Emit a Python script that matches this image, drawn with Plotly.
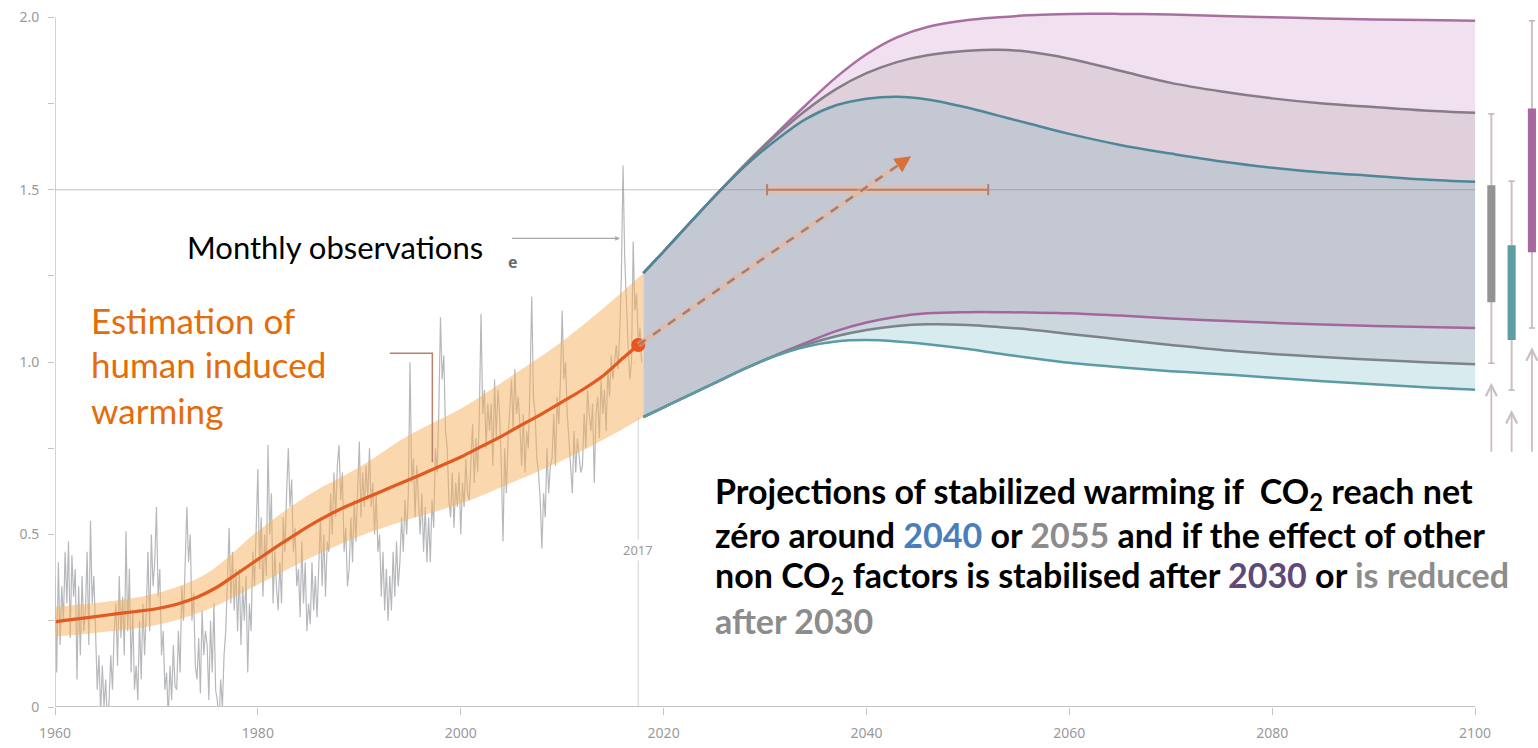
import plotly.graph_objects as go

# ---------------- DATA ----------------
# Monthly observations (sampled every two months), starting 1960
obs_start = 1960.0
obs_step = 1.0 / 6.0
obs_values = [
    0.38, 0.10, 0.42, 0.18, 0.35, 0.25,   # 1960
    0.45, 0.30, 0.48, 0.20, 0.44, 0.32,   # 1961
    0.40, 0.08, 0.35, 0.15, 0.38, 0.22,   # 1962
    0.28, 0.45, 0.18, 0.54, 0.30, 0.38,   # 1963
    0.22, 0.05, 0.15, -0.02, 0.12, 0.00,  # 1964
    0.08, -0.05, 0.02, 0.15, 0.05, 0.22,  # 1965
    0.30, 0.12, 0.38, 0.20, 0.32, 0.15,   # 1966
    0.51, 0.22, 0.40, 0.10, 0.28, 0.05,   # 1967
    0.12, 0.02, 0.25, 0.08, 0.30, 0.15,   # 1968
    0.28, 0.45, 0.22, 0.50, 0.35, 0.42,   # 1969
    0.58, 0.32, 0.40, 0.15, 0.22, 0.05,   # 1970
    0.10, -0.03, 0.12, 0.02, 0.18, 0.06,  # 1971
    0.05, 0.22, 0.10, 0.35, 0.25, 0.40,   # 1972
    0.58, 0.42, 0.50, 0.25, 0.33, 0.12,   # 1973
    0.08, 0.20, 0.04, 0.28, 0.15, 0.22,   # 1974
    0.18, 0.02, 0.25, 0.10, 0.30, 0.05,   # 1975
    0.02, -0.05, 0.08, 0.00, 0.15, 0.22,  # 1976
    0.35, 0.52, 0.30, 0.45, 0.28, 0.40,   # 1977
    0.22, 0.40, 0.18, 0.35, 0.25, 0.38,   # 1978
    0.10, 0.30, 0.22, 0.45, 0.35, 0.55,   # 1979
    0.69, 0.40, 0.55, 0.32, 0.50, 0.38,   # 1980
    0.76, 0.50, 0.62, 0.30, 0.45, 0.35,   # 1981
    0.28, 0.42, 0.30, 0.55, 0.45, 0.62,   # 1982
    0.75, 0.58, 0.66, 0.45, 0.52, 0.35,   # 1983
    0.40, 0.26, 0.48, 0.30, 0.42, 0.22,   # 1984
    0.30, 0.24, 0.42, 0.28, 0.38, 0.26,   # 1985
    0.38, 0.55, 0.35, 0.50, 0.32, 0.48,   # 1986
    0.45, 0.62, 0.50, 0.68, 0.55, 0.70,   # 1987
    0.76, 0.60, 0.68, 0.45, 0.52, 0.35,   # 1988
    0.40, 0.55, 0.42, 0.60, 0.48, 0.62,   # 1989
    0.77, 0.55, 0.68, 0.58, 0.70, 0.60,   # 1990
    0.75, 0.58, 0.65, 0.50, 0.62, 0.45,   # 1991
    0.50, 0.32, 0.45, 0.28, 0.40, 0.25,   # 1992
    0.38, 0.28, 0.45, 0.32, 0.48, 0.35,   # 1993
    0.42, 0.55, 0.45, 0.60, 0.50, 0.62,   # 1994
    1.00, 0.65, 0.72, 0.55, 0.70, 0.60,   # 1995
    0.50, 0.62, 0.45, 0.58, 0.42, 0.55,   # 1996
    0.42, 0.60, 0.52, 0.75, 0.68, 0.85,   # 1997
    1.13, 0.95, 1.02, 0.80, 0.75, 0.60,   # 1998
    0.55, 0.68, 0.52, 0.65, 0.58, 0.68,   # 1999
    0.50, 0.65, 0.58, 0.72, 0.62, 0.60,   # 2000
    0.70, 0.82, 0.65, 0.78, 0.68, 0.85,   # 2001
    1.14, 0.85, 0.92, 0.75, 0.88, 0.80,   # 2002
    0.88, 0.70, 0.95, 0.78, 0.92, 0.85,   # 2003
    0.70, 0.48, 0.75, 0.62, 0.78, 0.85,   # 2004
    0.95, 0.80, 0.98, 0.85, 0.90, 0.82,   # 2005
    0.70, 0.85, 0.68, 0.80, 0.75, 0.95,   # 2006
    1.19, 0.90, 0.85, 0.72, 0.68, 0.60,   # 2007
    0.46, 0.62, 0.55, 0.75, 0.62, 0.70,   # 2008
    0.72, 0.85, 0.70, 0.90, 0.82, 0.95,   # 2009
    1.15, 0.95, 1.00, 0.85, 0.78, 0.70,   # 2010
    0.62, 0.80, 0.68, 0.78, 0.72, 0.68,   # 2011
    0.70, 0.85, 0.75, 0.92, 0.85, 0.80,   # 2012
    0.88, 0.65, 0.85, 0.90, 0.78, 0.95,   # 2013
    0.85, 0.92, 0.80, 0.98, 0.90, 1.02,   # 2014
    0.95, 1.00, 1.05, 0.98, 1.08, 1.25,   # 2015
    1.57, 1.30, 1.15, 1.05, 0.95, 1.00,   # 2016
    1.35, 1.15, 1.20, 1.05, 1.10, 1.00,   # 2017
]

# Human-induced warming estimate
hw_years = [1960, 1962, 1964, 1966, 1968, 1970, 1972, 1974, 1976, 1978, 1980,
            1982, 1984, 1986, 1988, 1990, 1992, 1994, 1996, 1998, 2000,
            2002, 2004, 2006, 2008, 2010, 2012, 2014, 2016, 2017.5]
hw_center = [0.247, 0.255, 0.262, 0.270, 0.277, 0.285, 0.298, 0.318, 0.348, 0.388, 0.428,
             0.468, 0.506, 0.541, 0.572, 0.598, 0.623, 0.648, 0.673, 0.699, 0.725,
             0.755, 0.785, 0.818, 0.850, 0.885, 0.920, 0.960, 1.012, 1.050]
band_years = [1960, 1965, 1970, 1975, 1980, 1985, 1990, 1995, 2000, 2005, 2010, 2015, 2018]
band_low = [0.204, 0.218, 0.238, 0.282, 0.355, 0.430, 0.495, 0.545, 0.590, 0.650, 0.715, 0.790, 0.841]
band_high = [0.290, 0.305, 0.330, 0.388, 0.510, 0.615, 0.695, 0.790, 0.865, 0.960, 1.060, 1.180, 1.258]

# Projections (2018-2100)
proj_years = [2018, 2020, 2022, 2025, 2028, 2031, 2034, 2037, 2040, 2043, 2046, 2050,
              2053, 2056, 2060, 2065, 2070, 2075, 2080, 2085, 2090, 2095, 2100]
blue_top = [1.258, 1.321, 1.385, 1.480, 1.568, 1.642, 1.705, 1.745, 1.764, 1.770, 1.762, 1.738,
            1.715, 1.692, 1.662, 1.630, 1.605, 1.582, 1.564, 1.550, 1.540, 1.530, 1.523]
gray_top = [1.258, 1.321, 1.385, 1.480, 1.571, 1.655, 1.730, 1.792, 1.838, 1.870, 1.890, 1.903,
            1.906, 1.900, 1.880, 1.845, 1.810, 1.785, 1.765, 1.750, 1.740, 1.730, 1.723]
mag_top = [1.258, 1.321, 1.385, 1.480, 1.573, 1.660, 1.745, 1.826, 1.893, 1.942, 1.972, 1.992,
           2.000, 2.006, 2.010, 2.010, 2.008, 2.004, 2.000, 1.997, 1.994, 1.992, 1.990]
teal_bottom = [0.841, 0.869, 0.897, 0.939, 0.981, 1.018, 1.045, 1.060, 1.064, 1.060, 1.052, 1.038,
               1.025, 1.013, 0.998, 0.985, 0.974, 0.965, 0.955, 0.945, 0.936, 0.927, 0.920]
gray_bottom = [0.841, 0.869, 0.897, 0.939, 0.981, 1.019, 1.050, 1.075, 1.093, 1.105, 1.110, 1.108,
               1.102, 1.095, 1.082, 1.066, 1.050, 1.035, 1.024, 1.015, 1.007, 1.000, 0.994]
mag_bottom = [0.841, 0.869, 0.897, 0.939, 0.981, 1.020, 1.056, 1.090, 1.115, 1.132, 1.142, 1.145,
              1.145, 1.144, 1.142, 1.135, 1.127, 1.120, 1.114, 1.109, 1.105, 1.102, 1.099]

# Right-side ranges at 2100
range_names = ["gray", "teal", "magenta"]
range_x = [2101.6, 2103.6, 2105.6]
whisk_low = [0.997, 0.919, 1.099]
box_low = [1.174, 1.064, 1.319]
box_high = [1.513, 1.339, 1.736]
whisk_high = [1.720, 1.525, 1.990]
arrow_base = [0.736, 0.736, 0.736]
arrow_tip = [0.940, 0.861, 1.043]
range_colors = ["#929492", "#5e9ea2", "#a9679f"]

# 1.5 degree crossing range
cross_start, cross_end, cross_level = 2030.2, 2052.0, 1.5
# Dashed trend arrow
trend_start = (2017.5, 1.05)
trend_end = (2044.4, 1.597)

x_ticks = [1960, 1980, 2000, 2020, 2040, 2060, 2080, 2100]
y_ticks = [0, 0.25, 0.5, 0.75, 1.0, 1.25, 1.5, 1.75, 2.0]
y_ticktext = ["0", "", "0.5", "", "1.0", "", "1.5", "", "2.0"]

# ---------------- FIGURE ----------------
fig = go.Figure()

obs_years = [obs_start + i * obs_step for i in range(len(obs_values))]
fig.add_trace(go.Scatter(x=obs_years, y=obs_values, mode="lines",
                         line=dict(color="#b6b8bb", width=1.2), hoverinfo="skip"))

# orange uncertainty band
fig.add_trace(go.Scatter(x=band_years, y=band_low, mode="lines", line=dict(width=0, shape="spline"),
                         hoverinfo="skip"))
fig.add_trace(go.Scatter(x=band_years, y=band_high, mode="lines", line=dict(width=0, shape="spline"),
                         fill="tonexty", fillcolor="rgba(246,176,92,0.5)", hoverinfo="skip"))

# projection fills (stacked regions, bottom to top)
fills = [
    (teal_bottom, None),
    (gray_bottom, "#d8ebee"),
    (mag_bottom, "#ccd6de"),
    (blue_top, "#c4c8d3"),
    (gray_top, "#dfd0dc"),
    (mag_top, "#f0e0f0"),
]
for ys, fc in fills:
    if fc is None:
        fig.add_trace(go.Scatter(x=proj_years, y=ys, mode="lines",
                                 line=dict(width=0, shape="spline"), hoverinfo="skip"))
    else:
        fig.add_trace(go.Scatter(x=proj_years, y=ys, mode="lines",
                                 line=dict(width=0, shape="spline"), fill="tonexty",
                                 fillcolor=fc, hoverinfo="skip"))

# projection lines
for ys, col in [(mag_top, "#a8709f"), (gray_top, "#857c88"), (blue_top, "#4f8698"),
                (mag_bottom, "#a3679d"), (gray_bottom, "#7c8389"), (teal_bottom, "#5b9ba3")]:
    fig.add_trace(go.Scatter(x=proj_years, y=ys, mode="lines",
                             line=dict(color=col, width=2.5, shape="spline"), hoverinfo="skip"))

# human induced warming line + dot
fig.add_trace(go.Scatter(x=hw_years, y=hw_center, mode="lines",
                         line=dict(color="#e05a22", width=3.2, shape="spline"), hoverinfo="skip"))
fig.add_trace(go.Scatter(x=[hw_years[-1]], y=[hw_center[-1]], mode="markers",
                         marker=dict(color="#e8541f", size=14), hoverinfo="skip"))

shapes = []
# axes
shapes.append(dict(type="line", xref="x", yref="y", x0=1960, x1=2100, y0=0, y1=0,
                   line=dict(color="#c4c4c4", width=2), layer="above"))
shapes.append(dict(type="line", xref="x", yref="y", x0=1960, x1=1960, y0=0, y1=2.0,
                   line=dict(color="#c4c4c4", width=1.5), layer="above"))
# 1.5 line
shapes.append(dict(type="line", xref="x", yref="y", x0=1960, x1=2100, y0=1.5, y1=1.5,
                   line=dict(color="rgba(120,120,125,0.45)", width=1), layer="above"))
# 2017 line
shapes.append(dict(type="line", xref="x", yref="y", x0=2017.5, x1=2017.5, y0=0, y1=0.84,
                   line=dict(color="#d2d2d2", width=1), layer="below"))
# crossing range bar
shapes.append(dict(type="line", xref="x", yref="y", x0=cross_start, x1=cross_end,
                   y0=cross_level, y1=cross_level,
                   line=dict(color="rgba(248,185,140,0.55)", width=7), layer="above"))
shapes.append(dict(type="line", xref="x", yref="y", x0=cross_start, x1=cross_end,
                   y0=cross_level, y1=cross_level,
                   line=dict(color="#b57e6c", width=2), layer="above"))
for xc in (cross_start, cross_end):
    shapes.append(dict(type="line", xref="x", yref="y", x0=xc, x1=xc,
                       y0=cross_level - 0.016, y1=cross_level + 0.016,
                       line=dict(color="#b57e6c", width=2), layer="above"))
# dashed trend arrow
shapes.append(dict(type="line", xref="x", yref="y", x0=trend_start[0], y0=trend_start[1],
                   x1=trend_end[0] - 0.3, y1=trend_end[1] - 0.006,
                   line=dict(color="rgba(245,180,140,0.45)", width=6), layer="above"))
shapes.append(dict(type="line", xref="x", yref="y", x0=trend_start[0], y0=trend_start[1],
                   x1=trend_end[0] - 0.3, y1=trend_end[1] - 0.006,
                   line=dict(color="#a87c6e", width=2.5, dash="dash"), layer="above"))
# connector for estimation label
shapes.append(dict(type="path", xref="x", yref="y",
                   path="M 1993.0,1.026 L 1997.2,1.026 L 1997.2,0.71",
                   line=dict(color="#b8826e", width=1.5), layer="above"))
# right side ranges
for i in range(len(range_x)):
    xc = range_x[i]
    shapes.append(dict(type="line", xref="x", yref="y", x0=xc, x1=xc,
                       y0=whisk_low[i], y1=whisk_high[i],
                       line=dict(color="#cdbfc8", width=2), layer="above"))
    for yc in (whisk_low[i], whisk_high[i]):
        shapes.append(dict(type="line", xref="x", yref="y", x0=xc - 0.3, x1=xc + 0.3,
                           y0=yc, y1=yc, line=dict(color="#bfb2bb", width=1.5), layer="above"))
    shapes.append(dict(type="rect", xref="x", yref="y", x0=xc - 0.4, x1=xc + 0.4,
                       y0=box_low[i], y1=box_high[i], fillcolor=range_colors[i],
                       line=dict(width=0), layer="above"))

annotations = []
for i in range(len(range_x)):
    annotations.append(dict(x=range_x[i], y=arrow_tip[i], ax=range_x[i], ay=arrow_base[i],
                            xref="x", yref="y", axref="x", ayref="y", text="",
                            showarrow=True, arrowhead=5, arrowsize=1.2, arrowwidth=1.8,
                            arrowcolor="#cbbcc6"))
# trend arrowhead
annotations.append(dict(x=trend_end[0], y=trend_end[1], ax=trend_end[0] - 1.2, ay=trend_end[1] - 0.024,
                        xref="x", yref="y", axref="x", ayref="y", text="", showarrow=True,
                        arrowhead=2, arrowsize=1.3, arrowwidth=2.5, arrowcolor="#d9703a"))
# monthly observation pointer
annotations.append(dict(x=2015.7, y=1.359, ax=2004.9, ay=1.359, xref="x", yref="y",
                        axref="x", ayref="y", text="", showarrow=True, arrowhead=2,
                        arrowsize=0.8, arrowwidth=1.2, arrowcolor="#a8a8a8"))
annotations.append(dict(x=1972.8, y=1.333, xref="x", yref="y", xanchor="left", yanchor="middle",
                        text="Monthly observations", showarrow=False,
                        font=dict(family="Lato", size=31, color="#000000")))
annotations.append(dict(x=2005.1, y=1.29, xref="x", yref="y", xanchor="center", yanchor="middle",
                        text="<b>e</b>", showarrow=False,
                        font=dict(family="Open Sans", size=16, color="#6a6a6a")))
for txt, yy in [("Estimation of", 1.122), ("human induced", 0.994), ("warming", 0.861)]:
    annotations.append(dict(x=1963.4, y=yy, xref="x", yref="y", xanchor="left", yanchor="middle",
                            text=txt, showarrow=False,
                            font=dict(family="Lato", size=35, color="#e46c0a")))
annotations.append(dict(x=2017.5, y=0.455, xref="x", yref="y", text="2017", showarrow=False,
                        bgcolor="white", font=dict(family="Noto Sans", size=13, color="#9a9a9a")))

c_blue = "#4a7ebb"
c_gray = "#8c8c8c"
c_purple = "#5f497a"
para = [
    ("Projections of stabilized warming if  CO<sub>2</sub> reach net", 0.620),
    ("zéro around <span style='color:%s'>2040</span> or <span style='color:%s'>2055</span> and if the effect of other" % (c_blue, c_gray), 0.499),
    ("non CO<sub>2</sub> factors is stabilised after <span style='color:%s'>2030</span> or <span style='color:%s'>is reduced</span>" % (c_purple, c_gray), 0.377),
    ("<span style='color:%s'>after 2030</span>" % c_gray, 0.252),
]
for txt, yy in para:
    annotations.append(dict(x=2024.85, y=yy, xref="x", yref="y", xanchor="left", yanchor="middle",
                            text="<b>" + txt + "</b>", showarrow=False,
                            font=dict(family="Lato", size=34, color="#000000")))

fig.update_layout(
    width=1538, height=748,
    margin=dict(l=55, r=0, t=7, b=41),
    paper_bgcolor="white", plot_bgcolor="white",
    showlegend=False,
    shapes=shapes, annotations=annotations,
    xaxis=dict(range=[1960, 2106.2], tickvals=x_ticks, ticks="outside", ticklen=7,
               tickcolor="#c4c4c4", tickwidth=1, showgrid=False, zeroline=False, showline=False,
               ticklabelstandoff=6,
               tickfont=dict(family="Noto Sans", size=14, color="#9a9a9a")),
    yaxis=dict(range=[0, 2.03], tickvals=y_ticks, ticktext=y_ticktext, ticks="outside",
               ticklen=6, tickcolor="#c4c4c4", tickwidth=1, showgrid=False, zeroline=False,
               showline=False, ticklabelstandoff=6,
               tickfont=dict(family="Noto Sans", size=14, color="#9a9a9a")),
)

fig.write_html("out.html")
